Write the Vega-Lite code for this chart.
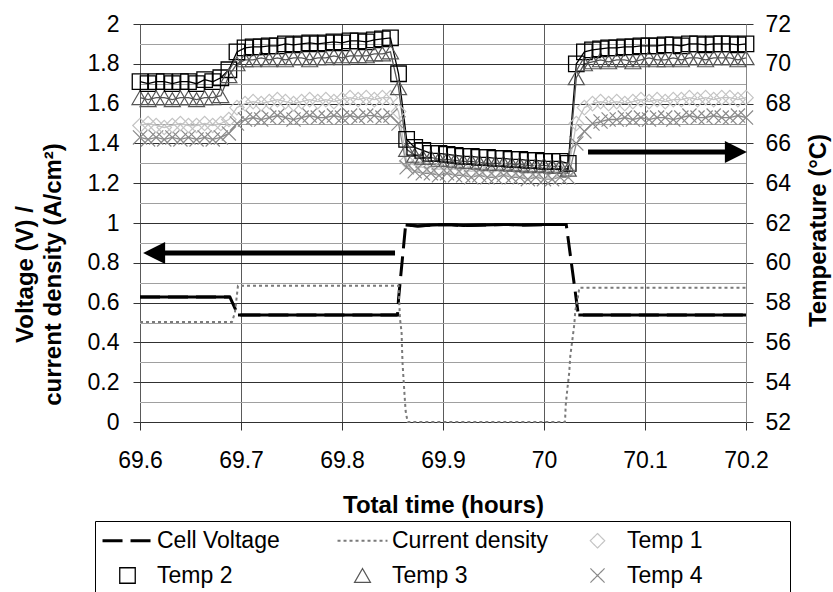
{
  "$schema": "https://vega.github.io/schema/vega-lite/v6.json",
  "width": 606,
  "height": 398,
  "autosize": "none",
  "padding": {"left": 140, "top": 24, "right": 87, "bottom": 170},
  "background": "white",
  "config": {
    "font": "Liberation Sans",
    "view": {"stroke": "#333333", "strokeDash": [1, 1], "strokeWidth": 1},
    "axis": {
      "labelFont": "Liberation Sans", "titleFont": "Liberation Sans",
      "labelColor": "#000000", "titleColor": "#000000",
      "labelFontSize": 23, "titleFontSize": 24, "titleFontWeight": "bold",
      "ticks": true, "tickColor": "#333333", "tickWidth": 1, "tickOpacity": 1,
      "domain": false, "gridWidth": 1, "gridOpacity": 1,
      "labelFlush": false, "labelOverlap": false
    },
    "legend": {
      "orient": "none", "legendX": -45, "legendY": 497,
      "direction": "horizontal", "columns": 3, "gridAlign": "all",
      "columnPadding": 20, "rowPadding": 11, "padding": 8,
      "labelFont": "Liberation Sans", "labelFontSize": 23, "labelColor": "#000000",
      "symbolOffset": 13, "labelOffset": 18, "labelLimit": 400,
      "titleOrient": "right", "titlePadding": 80, "titleFontSize": 8,
      "strokeColor": "#000000", "strokeWidth": 1
    }
  },
  "datasets": {
    "elec": [
      {"series": "Cell Voltage", "t": 69.6, "v": 0.628, "phase": 1},
      {"series": "Cell Voltage", "t": 69.64, "v": 0.628, "phase": 1},
      {"series": "Cell Voltage", "t": 69.689, "v": 0.628, "phase": 1},
      {"series": "Cell Voltage", "t": 69.697, "v": 0.538, "phase": 2},
      {"series": "Cell Voltage", "t": 69.78, "v": 0.538, "phase": 2},
      {"series": "Cell Voltage", "t": 69.855, "v": 0.538, "phase": 2},
      {"series": "Cell Voltage", "t": 69.856, "v": 0.62},
      {"series": "Cell Voltage", "t": 69.863, "v": 0.99, "phase": 3},
      {"series": "Cell Voltage", "t": 69.875, "v": 0.985, "phase": 3},
      {"series": "Cell Voltage", "t": 69.89, "v": 0.99, "phase": 3},
      {"series": "Cell Voltage", "t": 69.905, "v": 0.992, "phase": 3},
      {"series": "Cell Voltage", "t": 69.92, "v": 0.987, "phase": 3},
      {"series": "Cell Voltage", "t": 69.94, "v": 0.99, "phase": 3},
      {"series": "Cell Voltage", "t": 69.96, "v": 0.993, "phase": 3},
      {"series": "Cell Voltage", "t": 69.98, "v": 0.99, "phase": 3},
      {"series": "Cell Voltage", "t": 70.0, "v": 0.992, "phase": 3},
      {"series": "Cell Voltage", "t": 70.022, "v": 0.993, "phase": 3},
      {"series": "Cell Voltage", "t": 70.034, "v": 0.538, "phase": 4},
      {"series": "Cell Voltage", "t": 70.1, "v": 0.538, "phase": 4},
      {"series": "Cell Voltage", "t": 70.2, "v": 0.538, "phase": 4},
      {"series": "Current density", "t": 69.6, "v": 0.502},
      {"series": "Current density", "t": 69.65, "v": 0.502},
      {"series": "Current density", "t": 69.691, "v": 0.502},
      {"series": "Current density", "t": 69.694, "v": 0.55},
      {"series": "Current density", "t": 69.697, "v": 0.685},
      {"series": "Current density", "t": 69.78, "v": 0.685},
      {"series": "Current density", "t": 69.856, "v": 0.685},
      {"series": "Current density", "t": 69.8574, "v": 0.52},
      {"series": "Current density", "t": 69.859, "v": 0.45},
      {"series": "Current density", "t": 69.8595, "v": 0.36},
      {"series": "Current density", "t": 69.86, "v": 0.29},
      {"series": "Current density", "t": 69.861, "v": 0.21},
      {"series": "Current density", "t": 69.862, "v": 0.13},
      {"series": "Current density", "t": 69.863, "v": 0.055},
      {"series": "Current density", "t": 69.865, "v": 0.0},
      {"series": "Current density", "t": 69.95, "v": 0.0},
      {"series": "Current density", "t": 70.0208, "v": 0.0},
      {"series": "Current density", "t": 70.0215, "v": 0.085},
      {"series": "Current density", "t": 70.023, "v": 0.16},
      {"series": "Current density", "t": 70.025, "v": 0.25},
      {"series": "Current density", "t": 70.026, "v": 0.33},
      {"series": "Current density", "t": 70.028, "v": 0.41},
      {"series": "Current density", "t": 70.03, "v": 0.49},
      {"series": "Current density", "t": 70.031, "v": 0.56},
      {"series": "Current density", "t": 70.033, "v": 0.61},
      {"series": "Current density", "t": 70.035, "v": 0.675},
      {"series": "Current density", "t": 70.1, "v": 0.675},
      {"series": "Current density", "t": 70.2, "v": 0.675}
    ],
    "arrows": [
      {"dir": "left", "y": 0.849, "tail": 69.8525, "head": 69.614},
      {"dir": "right", "y": 1.357, "tail": 70.0436, "head": 70.19}
    ],
    "temps": [
      {"t": 69.600, "Temp 1": 66.9, "Temp 2": 69.1, "Temp 3": 68.3, "Temp 4": 66.3},
      {"t": 69.608, "Temp 1": 67.0, "Temp 2": 69.0, "Temp 3": 68.2, "Temp 4": 66.2},
      {"t": 69.616, "Temp 1": 66.9, "Temp 2": 69.1, "Temp 3": 68.3, "Temp 4": 66.3},
      {"t": 69.624, "Temp 1": 66.8, "Temp 2": 69.1, "Temp 3": 68.3, "Temp 4": 66.2},
      {"t": 69.632, "Temp 1": 66.9, "Temp 2": 69.0, "Temp 3": 68.2, "Temp 4": 66.3},
      {"t": 69.640, "Temp 1": 67.0, "Temp 2": 69.1, "Temp 3": 68.3, "Temp 4": 66.2},
      {"t": 69.648, "Temp 1": 66.9, "Temp 2": 69.1, "Temp 3": 68.3, "Temp 4": 66.3},
      {"t": 69.656, "Temp 1": 66.9, "Temp 2": 69.0, "Temp 3": 68.2, "Temp 4": 66.2},
      {"t": 69.664, "Temp 1": 67.0, "Temp 2": 69.2, "Temp 3": 68.3, "Temp 4": 66.3},
      {"t": 69.672, "Temp 1": 66.9, "Temp 2": 69.1, "Temp 3": 68.3, "Temp 4": 66.2},
      {"t": 69.680, "Temp 1": 67.0, "Temp 2": 69.3, "Temp 3": 68.4, "Temp 4": 66.3},
      {"t": 69.688, "Temp 1": 67.2, "Temp 2": 69.7, "Temp 3": 69.4, "Temp 4": 66.5},
      {"t": 69.696, "Temp 1": 67.8, "Temp 2": 70.6, "Temp 3": 70.0, "Temp 4": 67.0},
      {"t": 69.704, "Temp 1": 68.0, "Temp 2": 70.8, "Temp 3": 70.2, "Temp 4": 67.2},
      {"t": 69.712, "Temp 1": 68.1, "Temp 2": 70.85, "Temp 3": 70.2, "Temp 4": 67.3},
      {"t": 69.720, "Temp 1": 68.0, "Temp 2": 70.85, "Temp 3": 70.3, "Temp 4": 67.2},
      {"t": 69.728, "Temp 1": 68.1, "Temp 2": 70.9, "Temp 3": 70.2, "Temp 4": 67.3},
      {"t": 69.736, "Temp 1": 68.2, "Temp 2": 70.9, "Temp 3": 70.3, "Temp 4": 67.4},
      {"t": 69.744, "Temp 1": 68.1, "Temp 2": 71.0, "Temp 3": 70.2, "Temp 4": 67.3},
      {"t": 69.752, "Temp 1": 68.0, "Temp 2": 70.95, "Temp 3": 70.3, "Temp 4": 67.2},
      {"t": 69.760, "Temp 1": 68.1, "Temp 2": 71.0, "Temp 3": 70.3, "Temp 4": 67.3},
      {"t": 69.768, "Temp 1": 68.2, "Temp 2": 71.05, "Temp 3": 70.2, "Temp 4": 67.4},
      {"t": 69.776, "Temp 1": 68.1, "Temp 2": 71.0, "Temp 3": 70.3, "Temp 4": 67.3},
      {"t": 69.784, "Temp 1": 68.2, "Temp 2": 71.05, "Temp 3": 70.3, "Temp 4": 67.3},
      {"t": 69.792, "Temp 1": 68.1, "Temp 2": 71.1, "Temp 3": 70.4, "Temp 4": 67.4},
      {"t": 69.800, "Temp 1": 68.2, "Temp 2": 71.05, "Temp 3": 70.3, "Temp 4": 67.3},
      {"t": 69.808, "Temp 1": 68.3, "Temp 2": 71.15, "Temp 3": 70.4, "Temp 4": 67.4},
      {"t": 69.816, "Temp 1": 68.2, "Temp 2": 71.15, "Temp 3": 70.4, "Temp 4": 67.3},
      {"t": 69.824, "Temp 1": 68.3, "Temp 2": 71.1, "Temp 3": 70.4, "Temp 4": 67.4},
      {"t": 69.832, "Temp 1": 68.2, "Temp 2": 71.2, "Temp 3": 70.5, "Temp 4": 67.4},
      {"t": 69.840, "Temp 1": 68.3, "Temp 2": 71.25, "Temp 3": 70.5, "Temp 4": 67.3},
      {"t": 69.848, "Temp 1": 68.3, "Temp 2": 71.3, "Temp 3": 70.6, "Temp 4": 67.4},
      {"t": 69.856, "Temp 1": 67.6, "Temp 2": 69.5, "Temp 3": 68.8, "Temp 4": 67.0},
      {"t": 69.864, "Temp 1": 65.1, "Temp 2": 66.2, "Temp 3": 65.7, "Temp 4": 64.8},
      {"t": 69.872, "Temp 1": 64.9, "Temp 2": 65.8, "Temp 3": 65.4, "Temp 4": 64.6},
      {"t": 69.880, "Temp 1": 64.8, "Temp 2": 65.65, "Temp 3": 65.3, "Temp 4": 64.5},
      {"t": 69.888, "Temp 1": 64.8, "Temp 2": 65.5, "Temp 3": 65.3, "Temp 4": 64.5},
      {"t": 69.896, "Temp 1": 64.7, "Temp 2": 65.5, "Temp 3": 65.2, "Temp 4": 64.4},
      {"t": 69.904, "Temp 1": 64.8, "Temp 2": 65.45, "Temp 3": 65.2, "Temp 4": 64.5},
      {"t": 69.912, "Temp 1": 64.7, "Temp 2": 65.4, "Temp 3": 65.15, "Temp 4": 64.4},
      {"t": 69.920, "Temp 1": 64.7, "Temp 2": 65.35, "Temp 3": 65.1, "Temp 4": 64.4},
      {"t": 69.928, "Temp 1": 64.6, "Temp 2": 65.35, "Temp 3": 65.1, "Temp 4": 64.3},
      {"t": 69.936, "Temp 1": 64.7, "Temp 2": 65.3, "Temp 3": 65.05, "Temp 4": 64.4},
      {"t": 69.944, "Temp 1": 64.6, "Temp 2": 65.3, "Temp 3": 65.0, "Temp 4": 64.3},
      {"t": 69.952, "Temp 1": 64.6, "Temp 2": 65.25, "Temp 3": 65.0, "Temp 4": 64.3},
      {"t": 69.960, "Temp 1": 64.7, "Temp 2": 65.25, "Temp 3": 65.0, "Temp 4": 64.4},
      {"t": 69.968, "Temp 1": 64.6, "Temp 2": 65.2, "Temp 3": 64.95, "Temp 4": 64.3},
      {"t": 69.976, "Temp 1": 64.6, "Temp 2": 65.2, "Temp 3": 64.95, "Temp 4": 64.3},
      {"t": 69.984, "Temp 1": 64.5, "Temp 2": 65.15, "Temp 3": 64.9, "Temp 4": 64.2},
      {"t": 69.992, "Temp 1": 64.6, "Temp 2": 65.15, "Temp 3": 64.9, "Temp 4": 64.3},
      {"t": 70.000, "Temp 1": 64.5, "Temp 2": 65.1, "Temp 3": 64.9, "Temp 4": 64.2},
      {"t": 70.008, "Temp 1": 64.5, "Temp 2": 65.1, "Temp 3": 64.85, "Temp 4": 64.2},
      {"t": 70.016, "Temp 1": 64.6, "Temp 2": 65.1, "Temp 3": 64.85, "Temp 4": 64.3},
      {"t": 70.024, "Temp 1": 64.6, "Temp 2": 65.0, "Temp 3": 64.7, "Temp 4": 64.3},
      {"t": 70.032, "Temp 1": 67.0, "Temp 2": 70.0, "Temp 3": 69.3, "Temp 4": 66.0},
      {"t": 70.040, "Temp 1": 67.8, "Temp 2": 70.6, "Temp 3": 70.0, "Temp 4": 66.6},
      {"t": 70.048, "Temp 1": 68.0, "Temp 2": 70.7, "Temp 3": 70.1, "Temp 4": 67.0},
      {"t": 70.056, "Temp 1": 68.1, "Temp 2": 70.75, "Temp 3": 70.2, "Temp 4": 67.1},
      {"t": 70.064, "Temp 1": 68.0, "Temp 2": 70.8, "Temp 3": 70.1, "Temp 4": 67.2},
      {"t": 70.072, "Temp 1": 68.1, "Temp 2": 70.8, "Temp 3": 70.2, "Temp 4": 67.2},
      {"t": 70.080, "Temp 1": 68.0, "Temp 2": 70.85, "Temp 3": 70.2, "Temp 4": 67.3},
      {"t": 70.088, "Temp 1": 68.1, "Temp 2": 70.85, "Temp 3": 70.1, "Temp 4": 67.2},
      {"t": 70.096, "Temp 1": 68.2, "Temp 2": 70.9, "Temp 3": 70.2, "Temp 4": 67.3},
      {"t": 70.104, "Temp 1": 68.1, "Temp 2": 70.9, "Temp 3": 70.3, "Temp 4": 67.2},
      {"t": 70.112, "Temp 1": 68.2, "Temp 2": 70.9, "Temp 3": 70.2, "Temp 4": 67.3},
      {"t": 70.120, "Temp 1": 68.1, "Temp 2": 70.95, "Temp 3": 70.2, "Temp 4": 67.3},
      {"t": 70.128, "Temp 1": 68.2, "Temp 2": 70.95, "Temp 3": 70.3, "Temp 4": 67.2},
      {"t": 70.136, "Temp 1": 68.2, "Temp 2": 70.9, "Temp 3": 70.2, "Temp 4": 67.3},
      {"t": 70.144, "Temp 1": 68.3, "Temp 2": 71.0, "Temp 3": 70.3, "Temp 4": 67.4},
      {"t": 70.152, "Temp 1": 68.2, "Temp 2": 71.0, "Temp 3": 70.3, "Temp 4": 67.3},
      {"t": 70.160, "Temp 1": 68.3, "Temp 2": 70.95, "Temp 3": 70.2, "Temp 4": 67.3},
      {"t": 70.168, "Temp 1": 68.2, "Temp 2": 71.0, "Temp 3": 70.3, "Temp 4": 67.4},
      {"t": 70.176, "Temp 1": 68.3, "Temp 2": 71.0, "Temp 3": 70.3, "Temp 4": 67.3},
      {"t": 70.184, "Temp 1": 68.3, "Temp 2": 71.0, "Temp 3": 70.3, "Temp 4": 67.3},
      {"t": 70.192, "Temp 1": 68.2, "Temp 2": 70.95, "Temp 3": 70.2, "Temp 4": 67.4},
      {"t": 70.200, "Temp 1": 68.3, "Temp 2": 71.0, "Temp 3": 70.3, "Temp 4": 67.3}
    ]
  },
  "layer": [
    {
      "layer": [
        {
          "data": {"name": "elec"},
          "mark": {"type": "line", "strokeCap": "butt"},
          "encoding": {
            "x": {"field": "t", "type": "quantitative", "title": "Total time (hours)",
              "scale": {"domain": [69.6, 70.2], "nice": false, "zero": false},
              "axis": {"values": [69.6, 69.7, 69.8, 69.9, 70, 70.1, 70.2], "tickCount": 20, "format": ".1~f",
                "grid": true, "gridColor": "#5a5a5a", "ticks": true, "tickSize": 8, "tickColor": "#333333",
                "labelPadding": 19, "titlePadding": 21}},
            "y": {"field": "v", "type": "quantitative", "title": ["Voltage (V) /", "current density (A/cm²)"],
              "scale": {"domain": [0, 2], "nice": false, "zero": false},
              "axis": {"orient": "left", "tickCount": 30,
                "values": [0, 0.1, 0.2, 0.3, 0.4, 0.5, 0.6, 0.7, 0.8, 0.9, 1, 1.1, 1.2, 1.3, 1.4, 1.5, 1.6, 1.7, 1.8, 1.9, 2],
                "labelExpr": "round(datum.value*10)%2==0 ? format(datum.value,'.1~f') : ''",
                "labelOverlap": false, "grid": true, "ticks": true,
                "gridColor": {"condition": {"test": "round(datum.value*10)%2==1", "value": "#a0a0a0"}, "value": "#303030"},
                "tickColor": {"condition": {"test": "round(datum.value*10)%2==1", "value": "#ffffff"}, "value": "#333333"},
                "tickSize": 7, "labelPadding": 14, "titleLineHeight": 28, "titlePadding": 22, "titleY": 250}},
            "color": {"field": "series", "type": "nominal",
              "scale": {"domain": ["Cell Voltage", "Current density", "Temp 1", "Temp 2", "Temp 3", "Temp 4"],
                "range": ["#000000", "#7a7a7a", "#c4c4c4", "#000000", "#555555", "#8a8a8a"]},
              "legend": {"title": " "}},
            "strokeDash": {"field": "series", "type": "nominal",
              "scale": {"domain": ["Cell Voltage", "Current density", "Temp 1", "Temp 2", "Temp 3", "Temp 4"],
                "range": [[20, 8], [3, 3], [1, 0], [1, 0], [1, 0], [1, 0]]},
              "legend": {"title": " "}},
            "strokeWidth": {"field": "series", "type": "nominal",
              "scale": {"type": "ordinal", "domain": ["Cell Voltage", "Current density", "Temp 1", "Temp 2", "Temp 3", "Temp 4"],
                "range": [3, 2, 1.2, 1.3, 1.2, 1.2]},
              "legend": {"title": " "}}
          }
        },
        {
          "data": {"name": "elec"},
          "transform": [{"filter": {"field": "phase", "valid": true}}],
          "mark": {"type": "line", "color": "#000000", "strokeWidth": 3},
          "encoding": {
            "x": {"field": "t", "type": "quantitative", "title": "Total time (hours)", "scale": {"domain": [69.6, 70.2], "nice": false, "zero": false},
              "axis": {"values": [69.6, 69.7, 69.8, 69.9, 70, 70.1, 70.2], "tickCount": 20, "format": ".1~f",
                "grid": true, "gridColor": "#5a5a5a", "ticks": true, "tickSize": 8, "tickColor": "#333333",
                "labelPadding": 19, "titlePadding": 21}},
            "y": {"field": "v", "type": "quantitative", "title": ["Voltage (V) /", "current density (A/cm²)"], "scale": {"domain": [0, 2], "nice": false, "zero": false},
              "axis": {"orient": "left", "tickCount": 30,
                "values": [0, 0.1, 0.2, 0.3, 0.4, 0.5, 0.6, 0.7, 0.8, 0.9, 1, 1.1, 1.2, 1.3, 1.4, 1.5, 1.6, 1.7, 1.8, 1.9, 2],
                "labelExpr": "round(datum.value*10)%2==0 ? format(datum.value,'.1~f') : ''",
                "labelOverlap": false, "grid": true, "ticks": true,
                "gridColor": {"condition": {"test": "round(datum.value*10)%2==1", "value": "#a0a0a0"}, "value": "#303030"},
                "tickColor": {"condition": {"test": "round(datum.value*10)%2==1", "value": "#ffffff"}, "value": "#333333"},
                "tickSize": 7, "labelPadding": 14, "titleLineHeight": 28, "titlePadding": 22, "titleY": 250}},
            "detail": {"field": "phase", "type": "nominal"}
          }
        },
        {
          "data": {"name": "arrows"},
          "mark": {"type": "rule", "color": "#000000", "strokeWidth": 5, "strokeCap": "butt"},
          "encoding": {
            "x": {"field": "tail", "type": "quantitative", "title": "Total time (hours)", "scale": {"domain": [69.6, 70.2], "nice": false, "zero": false},
              "axis": {"values": [69.6, 69.7, 69.8, 69.9, 70, 70.1, 70.2], "tickCount": 20, "format": ".1~f",
                "grid": true, "gridColor": "#5a5a5a", "ticks": true, "tickSize": 8, "tickColor": "#333333",
                "labelPadding": 19, "titlePadding": 21}},
            "x2": {"field": "head"},
            "y": {"field": "y", "type": "quantitative", "title": ["Voltage (V) /", "current density (A/cm²)"], "scale": {"domain": [0, 2], "nice": false, "zero": false},
              "axis": {"orient": "left", "tickCount": 30,
                "values": [0, 0.1, 0.2, 0.3, 0.4, 0.5, 0.6, 0.7, 0.8, 0.9, 1, 1.1, 1.2, 1.3, 1.4, 1.5, 1.6, 1.7, 1.8, 1.9, 2],
                "labelExpr": "round(datum.value*10)%2==0 ? format(datum.value,'.1~f') : ''",
                "labelOverlap": false, "grid": true, "ticks": true,
                "gridColor": {"condition": {"test": "round(datum.value*10)%2==1", "value": "#a0a0a0"}, "value": "#303030"},
                "tickColor": {"condition": {"test": "round(datum.value*10)%2==1", "value": "#ffffff"}, "value": "#333333"},
                "tickSize": 7, "labelPadding": 14, "titleLineHeight": 28, "titlePadding": 22, "titleY": 250}}
          }
        },
        {
          "data": {"name": "arrows"},
          "transform": [{"filter": "datum.dir == 'left'"}],
          "mark": {"type": "point", "shape": "M-1,0L1,-1L1,1Z", "filled": true, "color": "#000000", "opacity": 1, "size": 484, "strokeWidth": 0},
          "encoding": {
            "x": {"field": "head", "type": "quantitative", "title": "Total time (hours)", "scale": {"domain": [69.6, 70.2], "nice": false, "zero": false},
              "axis": {"values": [69.6, 69.7, 69.8, 69.9, 70, 70.1, 70.2], "tickCount": 20, "format": ".1~f",
                "grid": true, "gridColor": "#5a5a5a", "ticks": true, "tickSize": 8, "tickColor": "#333333",
                "labelPadding": 19, "titlePadding": 21}},
            "y": {"field": "y", "type": "quantitative", "title": ["Voltage (V) /", "current density (A/cm²)"], "scale": {"domain": [0, 2], "nice": false, "zero": false},
              "axis": {"orient": "left", "tickCount": 30,
                "values": [0, 0.1, 0.2, 0.3, 0.4, 0.5, 0.6, 0.7, 0.8, 0.9, 1, 1.1, 1.2, 1.3, 1.4, 1.5, 1.6, 1.7, 1.8, 1.9, 2],
                "labelExpr": "round(datum.value*10)%2==0 ? format(datum.value,'.1~f') : ''",
                "labelOverlap": false, "grid": true, "ticks": true,
                "gridColor": {"condition": {"test": "round(datum.value*10)%2==1", "value": "#a0a0a0"}, "value": "#303030"},
                "tickColor": {"condition": {"test": "round(datum.value*10)%2==1", "value": "#ffffff"}, "value": "#333333"},
                "tickSize": 7, "labelPadding": 14, "titleLineHeight": 28, "titlePadding": 22, "titleY": 250}}
          }
        },
        {
          "data": {"name": "arrows"},
          "transform": [{"filter": "datum.dir == 'right'"}],
          "mark": {"type": "point", "shape": "M1,0L-1,-1L-1,1Z", "filled": true, "color": "#000000", "opacity": 1, "size": 484, "strokeWidth": 0},
          "encoding": {
            "x": {"field": "head", "type": "quantitative", "title": "Total time (hours)", "scale": {"domain": [69.6, 70.2], "nice": false, "zero": false},
              "axis": {"values": [69.6, 69.7, 69.8, 69.9, 70, 70.1, 70.2], "tickCount": 20, "format": ".1~f",
                "grid": true, "gridColor": "#5a5a5a", "ticks": true, "tickSize": 8, "tickColor": "#333333",
                "labelPadding": 19, "titlePadding": 21}},
            "y": {"field": "y", "type": "quantitative", "title": ["Voltage (V) /", "current density (A/cm²)"], "scale": {"domain": [0, 2], "nice": false, "zero": false},
              "axis": {"orient": "left", "tickCount": 30,
                "values": [0, 0.1, 0.2, 0.3, 0.4, 0.5, 0.6, 0.7, 0.8, 0.9, 1, 1.1, 1.2, 1.3, 1.4, 1.5, 1.6, 1.7, 1.8, 1.9, 2],
                "labelExpr": "round(datum.value*10)%2==0 ? format(datum.value,'.1~f') : ''",
                "labelOverlap": false, "grid": true, "ticks": true,
                "gridColor": {"condition": {"test": "round(datum.value*10)%2==1", "value": "#a0a0a0"}, "value": "#303030"},
                "tickColor": {"condition": {"test": "round(datum.value*10)%2==1", "value": "#ffffff"}, "value": "#333333"},
                "tickSize": 7, "labelPadding": 14, "titleLineHeight": 28, "titlePadding": 22, "titleY": 250}}
          }
        }
      ]
    },
    {
      "data": {"name": "temps"},
      "transform": [{"fold": ["Temp 1", "Temp 2", "Temp 3", "Temp 4"], "as": ["series", "T"]}],
      "layer": [
        {
          "mark": {"type": "line", "strokeWidth": 1.3},
          "encoding": {
            "x": {"field": "t", "type": "quantitative", "title": "Total time (hours)", "scale": {"domain": [69.6, 70.2], "nice": false, "zero": false},
              "axis": {"values": [69.6, 69.7, 69.8, 69.9, 70, 70.1, 70.2], "tickCount": 20, "format": ".1~f",
                "grid": true, "gridColor": "#5a5a5a", "ticks": true, "tickSize": 8, "tickColor": "#333333",
                "labelPadding": 19, "titlePadding": 21}},
            "y": {"field": "T", "type": "quantitative", "title": "Temperature (°C)", "scale": {"domain": [52, 72], "nice": false, "zero": false},
              "axis": {"orient": "right", "values": [52, 54, 56, 58, 60, 62, 64, 66, 68, 70, 72], "grid": false,
                "tickSize": 7, "labelPadding": 12, "domain": true, "domainColor": "#888888",
                "titleAngle": -90, "titleBaseline": "top", "titlePadding": 16, "titleY": 206}},
            "color": {"field": "series", "type": "nominal",
              "scale": {"domain": ["Cell Voltage", "Current density", "Temp 1", "Temp 2", "Temp 3", "Temp 4"],
                "range": ["#000000", "#7a7a7a", "#c4c4c4", "#000000", "#555555", "#8a8a8a"]},
              "legend": {"title": " "}}
          }
        },
        {
          "mark": {"type": "point", "filled": false, "opacity": 1},
          "encoding": {
            "x": {"field": "t", "type": "quantitative", "title": "Total time (hours)", "scale": {"domain": [69.6, 70.2], "nice": false, "zero": false},
              "axis": {"values": [69.6, 69.7, 69.8, 69.9, 70, 70.1, 70.2], "tickCount": 20, "format": ".1~f",
                "grid": true, "gridColor": "#5a5a5a", "ticks": true, "tickSize": 8, "tickColor": "#333333",
                "labelPadding": 19, "titlePadding": 21}},
            "y": {"field": "T", "type": "quantitative", "title": "Temperature (°C)", "scale": {"domain": [52, 72], "nice": false, "zero": false},
              "axis": {"orient": "right", "values": [52, 54, 56, 58, 60, 62, 64, 66, 68, 70, 72], "grid": false,
                "tickSize": 7, "labelPadding": 12, "domain": true, "domainColor": "#888888",
                "titleAngle": -90, "titleBaseline": "top", "titlePadding": 16, "titleY": 206}},
            "color": {"field": "series", "type": "nominal",
              "scale": {"domain": ["Cell Voltage", "Current density", "Temp 1", "Temp 2", "Temp 3", "Temp 4"],
                "range": ["#000000", "#7a7a7a", "#c4c4c4", "#000000", "#555555", "#8a8a8a"]},
              "legend": {"title": " "}},
            "shape": {"field": "series", "type": "nominal",
              "scale": {"domain": ["Cell Voltage", "Current density", "Temp 1", "Temp 2", "Temp 3", "Temp 4"],
                "range": ["M-3.33,0L3.33,0", "M-3.33,0L3.33,0", "diamond", "square", "triangle-up", "M-1,-1L1,1M1,-1L-1,1"]},
              "legend": {"title": " "}},
            "size": {"field": "series", "type": "nominal",
              "scale": {"type": "ordinal", "domain": ["Cell Voltage", "Current density", "Temp 1", "Temp 2", "Temp 3", "Temp 4"],
                "range": [225, 225, 210, 240, 256, 200]},
              "legend": {"title": " "}},
            "strokeWidth": {"field": "series", "type": "nominal",
              "scale": {"type": "ordinal", "domain": ["Cell Voltage", "Current density", "Temp 1", "Temp 2", "Temp 3", "Temp 4"],
                "range": [3, 2, 1.2, 1.3, 1.2, 1.2]},
              "legend": {"title": " "}}
          }
        }
      ]
    }
  ],
  "resolve": {"scale": {"y": "independent"}}
}
